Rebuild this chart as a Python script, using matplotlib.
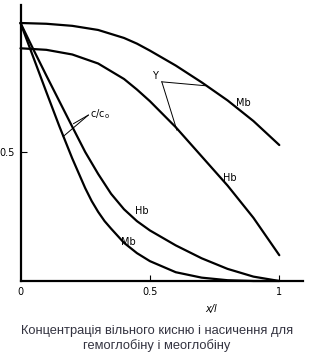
import matplotlib
matplotlib.use('Agg')
import matplotlib.pyplot as plt

# saturation Y, myoglobin (upper curve)
mb_y_x = [0.0, 0.1, 0.2, 0.3, 0.4, 0.45, 0.5, 0.6, 0.7, 0.8, 0.9, 1.0]
mb_y_v = [1.0, 0.997, 0.989, 0.973, 0.942, 0.92, 0.893, 0.835, 0.77, 0.70, 0.62, 0.527]

# saturation Y, hemoglobin
hb_y_x = [0.0, 0.1, 0.2, 0.3, 0.4, 0.45, 0.5, 0.6, 0.7, 0.8, 0.9, 1.0]
hb_y_v = [0.902, 0.896, 0.878, 0.843, 0.783, 0.742, 0.697, 0.596, 0.483, 0.370, 0.245, 0.10]

# free oxygen c/c0, hemoglobin
hb_c_x = [0.0, 0.05, 0.1, 0.15, 0.2, 0.25, 0.3, 0.35, 0.4, 0.45, 0.5,
          0.6, 0.7, 0.8, 0.9, 1.0]
hb_c_v = [1.0, 0.897, 0.796, 0.697, 0.598, 0.50, 0.415, 0.338, 0.278, 0.232, 0.196,
          0.138, 0.088, 0.047, 0.017, 0.0]

# free oxygen c/c0, myoglobin
mb_c_x = [0.0, 0.05, 0.1, 0.15, 0.2, 0.25, 0.275, 0.3, 0.325, 0.35, 0.4, 0.45, 0.5,
          0.6, 0.7, 0.8, 0.9, 1.0]
mb_c_v = [1.0, 0.866, 0.732, 0.60, 0.475, 0.36, 0.31, 0.268, 0.232, 0.203, 0.148, 0.108, 0.077,
          0.034, 0.013, 0.003, 0.0, 0.0]

x_ticks = [0, 0.5, 1]
x_tick_labels = ['0', '0.5', '1']
caption = 'Концентрація вільного кисню і насичення для\nгемоглобіну і меоглобіну'

fig = plt.figure(figsize=(3.14, 3.6), dpi=100)
ax = fig.add_axes([20.5 / 314, 79 / 360, 282.5 / 314, 276 / 360])
ax.set_xlim(0, 282.5 / 258.8)
ax.set_ylim(0, 276 / 258)

for xs, ys in [(mb_y_x, mb_y_v), (hb_y_x, hb_y_v), (hb_c_x, hb_c_v), (mb_c_x, mb_c_v)]:
    ax.plot(xs, ys, color='black', lw=1.6, solid_capstyle='round',
            solid_joinstyle='round', clip_on=False)

# pointer lines for the labels
ax.plot([0.546, 0.713], [0.772, 0.757], color='black', lw=0.7)
ax.plot([0.546, 0.604], [0.772, 0.585], color='black', lw=0.7)
ax.plot([0.262, 0.205], [0.643, 0.61], color='black', lw=0.7)
ax.plot([0.262, 0.165], [0.643, 0.56], color='black', lw=0.7)

ax.text(0.52, 0.795, 'Y', fontsize=7, ha='center', va='center')
ax.text(0.268, 0.645, 'c/c$_\\mathregular{o}$', fontsize=7, ha='left', va='center')
ax.text(0.861, 0.69, 'Mb', fontsize=7, ha='center', va='center')
ax.text(0.81, 0.40, 'Hb', fontsize=7, ha='center', va='center')
ax.text(0.468, 0.27, 'Hb', fontsize=7, ha='center', va='center')
ax.text(0.417, 0.15, 'Mb', fontsize=7, ha='center', va='center')

for s in ['top', 'right']:
    ax.spines[s].set_visible(False)
for s in ['left', 'bottom']:
    ax.spines[s].set_linewidth(1.6)

ax.set_xticks(x_ticks)
ax.set_xticklabels(x_tick_labels, fontsize=7)
ax.set_yticks([0.5])
ax.set_yticklabels(['0.5'], fontsize=7)
ax.tick_params(direction='in', length=4, width=0.8, pad=4)
ax.xaxis.get_majorticklines()[0].set_visible(False)

ax.text(0.674, -0.1, 'x/l', fontsize=7, style='italic', ha='center', va='center',
        transform=ax.transAxes)

fig.text(0.5, 0.061, caption, ha='center', va='center', fontsize=9.3,
         family='Liberation Sans', color='#333340', linespacing=1.2)

fig.savefig('out.png', dpi=100)
